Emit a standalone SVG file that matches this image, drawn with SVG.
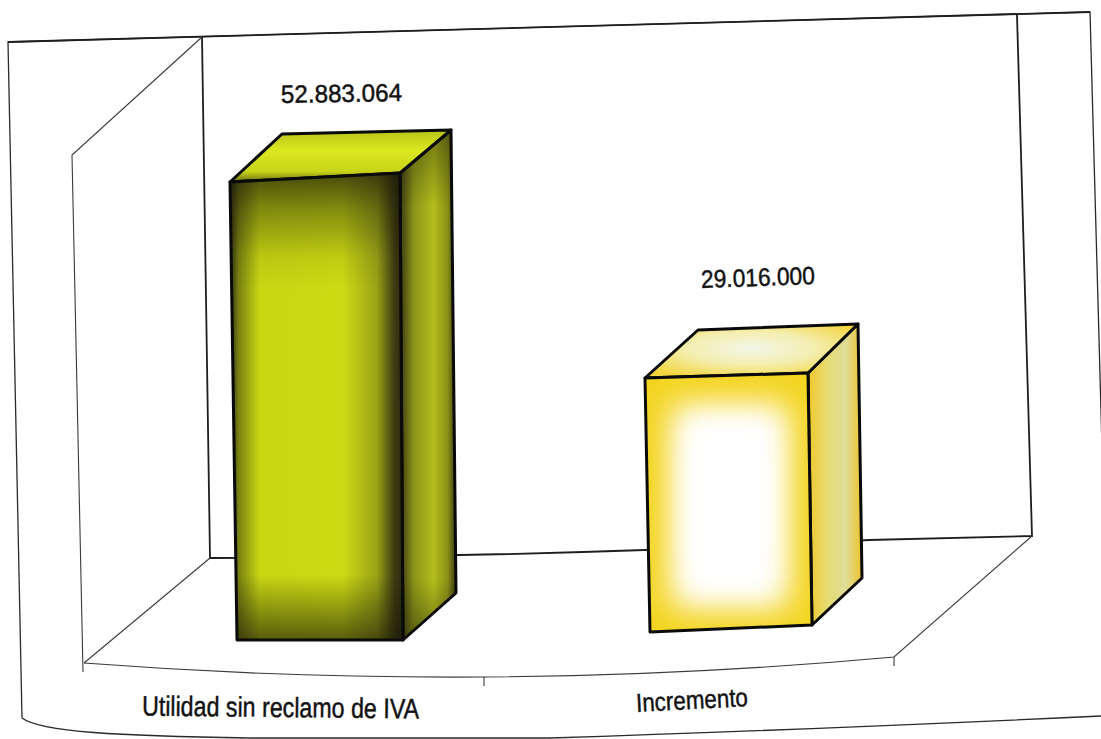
<svg xmlns="http://www.w3.org/2000/svg" width="1101" height="739" viewBox="0 0 1101 739">
  <style>
    .frame { fill: none; stroke: #2a2a2a; stroke-width: 1.3; }
    .wall { fill: none; stroke: #1e1e1e; stroke-width: 1.8; }
    .thin { fill: none; stroke: #3a3a3a; stroke-width: 1.1; }
    .bar { stroke: #0a0a0a; stroke-width: 3; stroke-linejoin: round; }
    .lbl { font-family: "Liberation Sans", Arial, sans-serif; fill: #111; stroke: #111; stroke-width: 0.45; }
  </style>
  <defs>
    <linearGradient id="b1front" x1="0" y1="0" x2="1" y2="0">
      <stop offset="0" stop-color="#2c2c10"/>
      <stop offset="0.05" stop-color="#7a8212"/>
      <stop offset="0.17" stop-color="#c8d612"/>
      <stop offset="0.65" stop-color="#cddb14"/>
      <stop offset="0.85" stop-color="#9aa216"/>
      <stop offset="0.95" stop-color="#3e3c12"/>
      <stop offset="1" stop-color="#2a2810"/>
    </linearGradient>
    <linearGradient id="b1shade" x1="0" y1="0" x2="0" y2="1">
      <stop offset="0" stop-color="#1a1a08" stop-opacity="0.75"/>
      <stop offset="0.08" stop-color="#1a1a08" stop-opacity="0.4"/>
      <stop offset="0.18" stop-color="#1a1a08" stop-opacity="0.08"/>
      <stop offset="0.25" stop-color="#1a1a08" stop-opacity="0"/>
      <stop offset="0.86" stop-color="#1a1a08" stop-opacity="0"/>
      <stop offset="1" stop-color="#1a1a08" stop-opacity="0.65"/>
    </linearGradient>
    <linearGradient id="b1side" x1="0" y1="0" x2="1" y2="0">
      <stop offset="0" stop-color="#3a3812"/>
      <stop offset="0.25" stop-color="#8c9418"/>
      <stop offset="0.6" stop-color="#b4be1c"/>
      <stop offset="0.85" stop-color="#8a9016"/>
      <stop offset="1" stop-color="#3a3812"/>
    </linearGradient>
    <linearGradient id="b1sideshade" x1="0" y1="0" x2="0" y2="1">
      <stop offset="0" stop-color="#1a1a08" stop-opacity="0.45"/>
      <stop offset="0.15" stop-color="#1a1a08" stop-opacity="0"/>
      <stop offset="0.88" stop-color="#1a1a08" stop-opacity="0"/>
      <stop offset="1" stop-color="#1a1a08" stop-opacity="0.45"/>
    </linearGradient>
    <linearGradient id="b1top" x1="0" y1="0" x2="0" y2="1">
      <stop offset="0" stop-color="#b8c418"/>
      <stop offset="0.4" stop-color="#dbe820"/>
      <stop offset="0.8" stop-color="#c8d418"/>
      <stop offset="1" stop-color="#6a6c14"/>
    </linearGradient>
    <linearGradient id="b2side" x1="0" y1="0" x2="1" y2="0">
      <stop offset="0" stop-color="#eec82a"/>
      <stop offset="0.35" stop-color="#e6dc70"/>
      <stop offset="0.7" stop-color="#dedc98"/>
      <stop offset="1" stop-color="#eec42a"/>
    </linearGradient>
    <radialGradient id="b2top" cx="0.5" cy="0.45" r="0.6">
      <stop offset="0" stop-color="#f2f6e8"/>
      <stop offset="0.5" stop-color="#f4eeb0"/>
      <stop offset="1" stop-color="#f2d640"/>
    </radialGradient>
    <filter id="soft" x="-40%" y="-40%" width="180%" height="180%">
      <feGaussianBlur stdDeviation="16"/>
    </filter>
    <clipPath id="b2clip">
      <polygon points="645,378 808,373 812,625 650,632"/>
    </clipPath>
  </defs>

  <rect x="0" y="0" width="1101" height="739" fill="#ffffff"/>

  <g id="frame">
    <path class="frame" d="M22,718 L8,42 L1090,12 L1104,520"/>
    <path class="frame" d="M22,718 C40,732 120,736 250,738 L550,738 Q800,730 1101,716"/>
  </g>

  <g id="walls">
    <path class="wall" d="M202,37 L210,558 Q560,557 869,540 L1032,536 L1017,15"/>
    <path class="wall" d="M8,42 L1090,12" stroke-width="2.4"/>
    <path class="thin" d="M202,37 L72,155 L83,672"/>
    <path class="thin" d="M210,558 L84,663"/>
    <path class="thin" d="M84,663 Q489,694 894,657 L1032,536"/>
    <path class="thin" d="M484,677 L484,686 M894,657 L894,666"/>
  </g>

  <g id="bar-utilidad">
    <polygon points="400,173 451,130 456,593 403,640" fill="url(#b1side)"/>
    <polygon class="bar" points="400,173 451,130 456,593 403,640" fill="url(#b1sideshade)"/>
    <polygon class="bar" points="230,182 282,134 451,130 400,173" fill="url(#b1top)"/>
    <polygon points="230,182 400,173 403,640 237,640" fill="url(#b1front)"/>
    <polygon class="bar" points="230,182 400,173 403,640 237,640" fill="url(#b1shade)"/>
  </g>

  <g id="bar-incremento">
    <polygon class="bar" points="808,373 858,324 862,578 812,625" fill="url(#b2side)"/>
    <polygon class="bar" points="645,378 698,330 858,324 808,373" fill="url(#b2top)"/>
    <polygon points="645,378 808,373 812,625 650,632" fill="#f3d41e"/>
    <g clip-path="url(#b2clip)">
      <rect x="672" y="404" width="116" height="204" fill="#ffffff" filter="url(#soft)"/>
      <rect x="688" y="425" width="84" height="160" fill="#ffffff" filter="url(#soft)"/>
    </g>
    <polygon class="bar" points="645,378 808,373 812,625 650,632" fill="none"/>
  </g>

  <g id="labels">
    <text class="lbl" x="281" y="102" font-size="25" textLength="121" lengthAdjust="spacingAndGlyphs" transform="rotate(-1 341 96)">52.883.064</text>
    <text class="lbl" x="701" y="286" font-size="25" textLength="114" lengthAdjust="spacingAndGlyphs" transform="rotate(-2 758 280)">29.016.000</text>
    <text class="lbl" x="142" y="717" font-size="28" textLength="277" lengthAdjust="spacingAndGlyphs" transform="rotate(0.6 280 710)">Utilidad sin reclamo de IVA</text>
    <text class="lbl" x="636" y="709" font-size="26" textLength="112" lengthAdjust="spacingAndGlyphs" transform="rotate(-3 692 702)">Incremento</text>
  </g>
</svg>
